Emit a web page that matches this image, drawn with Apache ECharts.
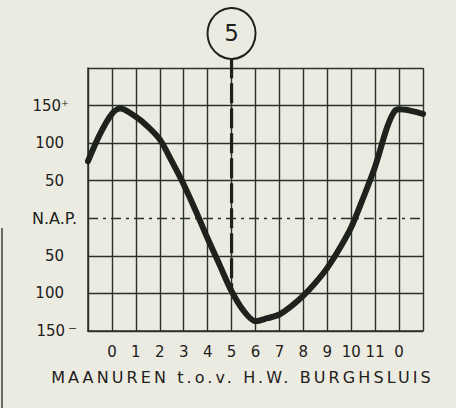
<!DOCTYPE html>
<html>
<head>
<meta charset="utf-8">
<script src="https://cdn.jsdelivr.net/npm/echarts@6/dist/echarts.min.js"></script>
<style>
  html, body { margin: 0; padding: 0; background: #ecebe1; }
  #chart { width: 456px; height: 408px; }
  #chart text[style*="Verdana"] { letter-spacing: 3.1px; }
</style>
</head>
<body>
<div id="chart"></div>
<script>
// ---- data ----
const moonHours = [-1, -0.5, 0, 0.35, 1, 1.5, 2, 2.5, 3, 3.5, 4, 4.5, 5, 5.5, 6, 6.5, 7, 7.5, 8, 8.5, 9, 9.5, 10, 10.5, 11, 11.5, 11.8, 12, 12.5, 13];
const waterLevel = [76, 112, 139, 146, 135, 122, 105, 76, 45, 10, -27, -62, -97, -123, -137, -133, -128, -117, -103, -86, -66, -41, -12, 27, 69, 121, 142, 145, 143, 139];
const xTickValues = [0, 1, 2, 3, 4, 5, 6, 7, 8, 9, 10, 11, 12];
const xTickLabels = ['0', '1', '2', '3', '4', '5', '6', '7', '8', '9', '10', '11', '0'];
const yTickValues = [150, 100, 50, 0, -50, -100, -150];
const yTickLabels = ['{a|150}{p|⁺}', '{n|100}', '{n|50}', '{nap|N.A.P.}', '{n|50}', '{n|100}', '{a|150}{m|⁻}'];
const markerHour = 5;
const markerLevel = -97;
const markerLabel = '5';
const xAxisTitle = 'MAANUREN t.o.v. H.W. BURGHSLUIS';

const ink = '#1e211c';
const gridInk = '#2a3329';
const paper = '#ecebe1';

const chart = echarts.init(document.getElementById('chart'), null, { renderer: 'svg' });

const option = {
  backgroundColor: paper,
  animation: false,
  grid: { left: 88, right: 33, top: 68, bottom: 77 },
  xAxis: {
    type: 'value', min: -1, max: 13, interval: 1,
    axisLine: { show: true, onZero: false, lineStyle: { color: gridInk, width: 1.7 } },
    axisTick: { show: false },
    splitLine: { show: true, lineStyle: { color: gridInk, width: 1.4 } },
    axisLabel: {
      margin: 13, fontSize: 15, color: ink, fontFamily: 'DejaVu Sans',
      formatter: v => { const i = xTickValues.indexOf(v); return i >= 0 ? xTickLabels[i] : ''; }
    },
    name: xAxisTitle, nameLocation: 'middle', nameGap: 38,
    nameTextStyle: { fontSize: 16, color: ink, fontFamily: 'Verdana, DejaVu Sans', padding: [0, 26, 0, 0] }
  },
  yAxis: {
    type: 'value', min: -150, max: 200, interval: 50,
    axisLine: { show: true, onZero: false, lineStyle: { color: gridInk, width: 1.5 } },
    axisTick: { show: false },
    splitLine: { show: true, lineStyle: { color: [gridInk, gridInk, gridInk, 'rgba(0,0,0,0)', gridInk, gridInk, gridInk, gridInk], width: 1.4 } },
    axisLabel: {
      margin: 11, align: 'right', color: ink, fontFamily: 'DejaVu Sans', fontSize: 15,
      formatter: v => { const i = yTickValues.indexOf(v); return i >= 0 ? yTickLabels[i] : ''; },
      rich: {
        n: { fontSize: 15, color: ink, fontFamily: 'DejaVu Sans', padding: [0, 13, 0, 0] },
        a: { fontSize: 15, color: ink, fontFamily: 'DejaVu Sans' },
        p: { fontSize: 15, color: ink, fontFamily: 'DejaVu Sans', padding: [0, 8, 0, 0] },
        m: { fontSize: 17, color: ink, fontFamily: 'DejaVu Sans', padding: [0, 0, 0, 3] },
        nap: { fontSize: 16, color: ink, fontFamily: 'DejaVu Sans' }
      }
    }
  },
  series: [
    {
      type: 'line', data: [], symbol: 'none', silent: true,
      markLine: {
        silent: true, symbol: 'none', label: { show: false },
        lineStyle: { color: gridInk, width: 1.4, type: [10, 5, 3, 5] },
        data: [{ yAxis: 0 }]
      }
    },
    {
      type: 'line', clip: false, symbol: 'none', z: 3,
      data: [[markerHour, 213], [markerHour, markerLevel]],
      lineStyle: { color: ink, width: 3.2, type: [20, 5] }
    },
    {
      type: 'line', smooth: 0.3, symbol: 'none', z: 5,
      data: moonHours.map((h, i) => [h, waterLevel[i]]),
      lineStyle: { color: ink, width: 6, cap: 'round', join: 'round' }
    },
    {
      type: 'scatter', clip: false, z: 6,
      data: [[markerHour, 246]],
      symbol: 'circle', symbolSize: [48, 51],
      itemStyle: { color: paper, borderColor: ink, borderWidth: 2, opacity: 1 },
      label: { show: true, position: 'inside', formatter: markerLabel, fontSize: 23, color: ink, fontFamily: 'DejaVu Sans' }
    }
  ],
  graphic: [
    { type: 'line', shape: { x1: 2, y1: 228, x2: 2, y2: 408 }, style: { stroke: '#3a4236', lineWidth: 1.5 }, silent: true }
  ]
};
chart.setOption(option);
</script>
</body>
</html>
